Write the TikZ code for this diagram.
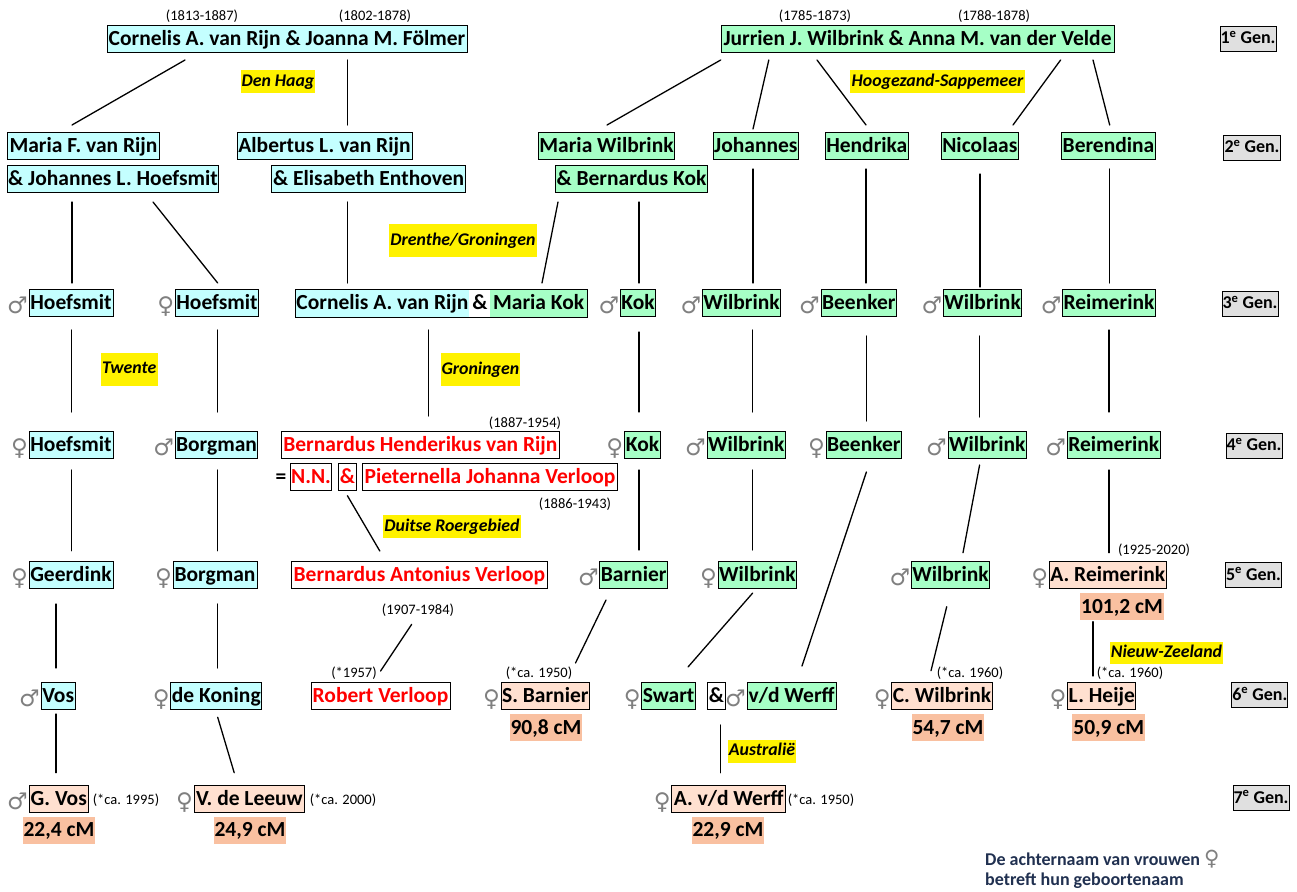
\documentclass[tikz,border=0pt]{standalone}
\usepackage{fontspec}
\setmainfont{Carlito}
\newfontfamily\symf{DejaVu Sans}
\usetikzlibrary{fit}
\definecolor{cyb}{HTML}{C4FFFF}
\definecolor{grb}{HTML}{A6FFC6}
\definecolor{peb}{HTML}{FFE0D0}
\definecolor{cmb}{HTML}{F9C0A0}
\definecolor{genb}{HTML}{E0E0E0}
\definecolor{symgray}{HTML}{808080}
\definecolor{navy}{HTML}{203050}
\tikzset{
 pbx/.style={draw=black, line width=0.9pt, inner xsep=1pt, inner ysep=0pt, minimum height=27pt, text height=16.5pt, text depth=3.5pt, font=\bfseries\fontsize{21.5}{24}\selectfont},
 pcy/.style={pbx, fill=cyb},
 pgr/.style={pbx, fill=grb},
 ppe/.style={pbx, fill=peb},
 prd/.style={pbx, fill=white, text=red},
 pwh/.style={pbx, fill=white},
 cmbox/.style={fill=cmb, inner xsep=1pt, inner ysep=0pt, minimum height=27pt, minimum width=72pt, text height=16.5pt, text depth=3.5pt, font=\bfseries\fontsize{21.5}{24}\selectfont},
 genbox/.style={draw=black, line width=0.9pt, fill=genb, inner xsep=0.5pt, inner ysep=0pt, minimum height=25pt, text height=14.5pt, text depth=4pt, font=\bfseries\fontsize{18}{20}\selectfont},
 ylab/.style={fill=yellow, inner sep=0pt, text height=13pt, text depth=4pt, font=\bfseries\itshape\fontsize{17.8}{20}\selectfont},
 dat/.style={inner sep=0pt, font=\fontsize{14.5}{16}\selectfont},
 gsym/.style={inner sep=0pt, text=symgray, font=\symf\fontsize{23}{24}\selectfont},
 conline/.style={line width=1.3pt, line cap=round},
}
\newcommand\pp[7]{\node[#1, minimum width=#5] (#2) at (#3,#4) {#7};
 \node[gsym, anchor=base east, xshift=-0.5pt, yshift=-4pt] (#2s) at (#2.base west) {#6};}
\newcommand\conn[3]{\coordinate (#1a) at (#2); \coordinate (#1b) at (#3); \draw[conline] (#1a) -- (#1b);}
\begin{document}
\begin{tikzpicture}[x=1pt,y=-1pt]
\fill[white] (0,0) rectangle (1297,891);
\useasboundingbox (0,0) rectangle (1297,891);

% ---------- generation 1
\node[pcy, minimum width=360] (r1) at (287,39) {Cornelis A. van Rijn \& Joanna M. Fölmer};
\node[pgr, minimum width=393] (w1) at (917.5,39) {Jurrien J. Wilbrink \& Anna M. van der Velde};
\node[dat] (d1) at (202,16) {(1813-1887)};
\node[dat] (d2) at (375,16) {(1802-1878)};
\node[dat] (d3) at (815,16) {(1785-1873)};
\node[dat] (d4) at (994,16) {(1788-1878)};
\node[genbox, minimum width=56] (g1) at (1248,38.5) {1\textsuperscript{e} Gen.};
\node[ylab, minimum width=74, minimum height=23] (y1) at (278,81.5) {Den Haag};
\node[ylab, minimum width=175, minimum height=23] (y2) at (937.5,81.5) {Hoogezand-Sappemeer};

% ---------- generation 2
\node[pcy, minimum width=152] (a1) at (83.5,146) {Maria F. van Rijn};
\node[pcy, minimum width=211.5] (a2) at (113,179) {\& Johannes L. Hoefsmit};
\node[pcy, minimum width=175] (b1) at (324.5,146) {Albertus L. van Rijn};
\node[pcy, minimum width=194] (b2) at (368.6,179) {\& Elisabeth Enthoven};
\node[pgr, minimum width=136] (c1) at (606.5,146) {Maria Wilbrink};
\node[pgr, minimum width=151.6] (c2) at (631.5,179) {\& Bernardus Kok};
\node[pgr, minimum width=85.5] (e1) at (755.8,146) {Johannes};
\node[pgr, minimum width=83.5] (f1) at (866.8,146) {Hendrika};
\node[pgr, minimum width=77.5] (h1) at (979.8,146) {Nicolaas};
\node[pgr, minimum width=93.7] (k1) at (1108.5,146) {Berendina};
\node[genbox, minimum width=57] (g2) at (1252,147.5) {2\textsuperscript{e} Gen.};
\node[ylab, minimum width=148, minimum height=33] (y3) at (463,240.5) {Drenthe/Groningen};

% ---------- generation 3
\pp{pcy}{p3a}{71}{303}{84}{♂}{Hoefsmit}
\pp{pcy}{p3b}{217}{303}{83.3}{♀}{Hoefsmit}
\node[pbx, draw=none, fill=cyb, minimum width=173.5, anchor=west] (c3a) at (295,303) {Cornelis A. van Rijn};
\node[pbx, draw=none, fill=white, minimum width=19, anchor=west] (c3b) at (c3a.east) {\&};
\node[pbx, draw=none, fill=grb, minimum width=96.8, anchor=west] (c3c) at (c3b.east) {Maria Kok};
\node[fit=(c3a)(c3c), draw=black, line width=0.9pt, inner sep=0pt] (c3) {};
\pp{pgr}{p3d}{638}{303}{34.7}{♂}{Kok}
\pp{pgr}{p3e}{741.5}{303}{78.3}{♂}{Wilbrink}
\pp{pgr}{p3f}{858.8}{303}{75.6}{♂}{Beenker}
\pp{pgr}{p3g}{982.6}{303}{77.8}{♂}{Wilbrink}
\pp{pgr}{p3h}{1109}{303}{92.7}{♂}{Reimerink}
\node[genbox, minimum width=54.3] (g3) at (1250,303.5) {3\textsuperscript{e} Gen.};
\node[ylab, minimum width=56.5, minimum height=33] (y4) at (129.3,369.4) {Twente};
\node[ylab, minimum width=79.3, minimum height=33] (y5) at (480.4,369.5) {Groningen};

% ---------- generation 4
\pp{pcy}{p4a}{71}{444.5}{84}{♀}{Hoefsmit}
\pp{pcy}{p4b}{216.5}{444.5}{82}{♂}{Borgman}
\node[prd, minimum width=278.7] (p4c) at (420.4,444.5) {Bernardus Henderikus van Rijn};
\node[dat] (d5) at (525,423.5) {(1887-1954)};
\node[anchor=base, inner sep=0pt, font=\bfseries\fontsize{21.5}{24}\selectfont] (eq) at (281,483) {=};
\node[prd, minimum width=41.7] (nn) at (311,476.5) {N.N.};
\node[prd, minimum width=16.7] (amp) at (347.4,476.5) {\&};
\node[prd, minimum width=255.8] (pjv) at (490,476.5) {Pieternella Johanna Verloop};
\node[dat] (d6) at (575,504.5) {(1886-1943)};
\pp{pgr}{p4d}{642.5}{444.5}{36.2}{♀}{Kok}
\pp{pgr}{p4e}{746.3}{444.5}{78.6}{♂}{Wilbrink}
\pp{pgr}{p4f}{863.8}{444.5}{75.6}{♀}{Beenker}
\pp{pgr}{p4g}{987.3}{444.5}{78.6}{♂}{Wilbrink}
\pp{pgr}{p4h}{1113.8}{444.5}{93.5}{♂}{Reimerink}
\node[genbox, minimum width=54] (g4) at (1254,445.5) {4\textsuperscript{e} Gen.};
\node[ylab, minimum width=138, minimum height=23] (y6) at (452,526.5) {Duitse Roergebied};

% ---------- generation 5
\pp{pcy}{p5a}{71}{574.5}{84}{♀}{Geerdink}
\pp{pcy}{p5b}{215}{574.5}{84}{♀}{Borgman}
\node[prd, minimum width=256.7] (p5c) at (419.4,574.5) {Bernardus Antonius Verloop};
\pp{pgr}{p5d}{633.7}{574.5}{66.6}{♂}{Barnier}
\pp{pgr}{p5e}{757.4}{574.5}{78}{♀}{Wilbrink}
\pp{pgr}{p5f}{950.5}{574.5}{78}{♂}{Wilbrink}
\pp{ppe}{p5g}{1107.8}{574.5}{116.3}{♀}{A. Reimerink}
\node[dat] (d7) at (1154,550.5) {(1925-2020)};
\node[cmbox, minimum width=82] (cm1) at (1122,606.5) {101,2 cM};
\node[genbox, minimum width=55] (g5) at (1253.5,575) {5\textsuperscript{e} Gen.};

% ---------- generation 6
\pp{pcy}{p6a}{58.2}{695.5}{34.5}{♂}{Vos}
\pp{pcy}{p6b}{216.3}{695.5}{90.6}{♀}{de Koning}
\node[prd, minimum width=139] (p6c) at (380.5,695.5) {Robert Verloop};
\node[dat] (d8) at (418,610) {(1907-1984)};
\node[dat] (d9) at (354,673) {(*1957)};
\pp{ppe}{p6d}{545.3}{695.5}{88.6}{♀}{S. Barnier}
\node[dat] (d10) at (539,673) {(*ca. 1950)};
\node[cmbox] (cm2) at (546,727.5) {90,8 cM};
\pp{pgr}{p6e}{668.6}{695.5}{53.3}{♀}{Swart}
\node[pwh, minimum width=16] (amp2) at (716.5,695.5) {\&};
\pp{pgr}{p6f}{791.6}{695.5}{89.3}{♂}{v/d Werff}
\pp{ppe}{p6g}{942}{695.5}{100.3}{♀}{C. Wilbrink}
\node[dat] (d11) at (970,673) {(*ca. 1960)};
\node[cmbox] (cm3) at (948,727.5) {54,7 cM};
\pp{ppe}{p6h}{1101.8}{695.5}{66.7}{♀}{L. Heije}
\node[dat] (d12) at (1130,673) {(*ca. 1960)};
\node[cmbox] (cm4) at (1108.8,727.5) {50,9 cM};
\node[ylab, minimum width=113, minimum height=22] (y7) at (1166.5,653.3) {Nieuw-Zeeland};
\node[genbox, minimum width=55.5] (g6) at (1259.8,695) {6\textsuperscript{e} Gen.};
\node[ylab, minimum width=68, minimum height=22.7] (y8) at (762,751.4) {Australië};

% ---------- generation 7
\pp{ppe}{p7a}{58.8}{798.5}{59.7}{♂}{G. Vos}
\node[dat] (d13) at (126,800) {(*ca. 1995)};
\node[cmbox] (cm5) at (59,830.4) {22,4 cM};
\pp{ppe}{p7b}{249.4}{798.5}{110.7}{♀}{V. de Leeuw}
\node[dat] (d14) at (343,800) {(*ca. 2000)};
\node[cmbox] (cm6) at (250,830.4) {24,9 cM};
\pp{ppe}{p7c}{728.7}{798.5}{113.8}{♀}{A. v/d Werff}
\node[dat] (d15) at (821,800) {(*ca. 1950)};
\node[cmbox] (cm7) at (728,830.4) {22,9 cM};
\node[genbox, minimum width=56] (g7) at (1261,798) {7\textsuperscript{e} Gen.};

% ---------- footer
\node[anchor=west, inner sep=0pt, text=navy, font=\bfseries\fontsize{18}{22}\selectfont] (ft1) at (985,859) {De achternaam van vrouwen \textcolor{symgray}{\symf\mdseries\fontsize{21}{22}\selectfont ♀}};
\node[anchor=west, inner sep=0pt, text=navy, font=\bfseries\fontsize{18}{22}\selectfont] (ft2) at (985,881) {betreft hun geboortenaam};

% ---------- connectors
\conn{l1}{185,60}{72,125}
\conn{l2}{347.5,60}{347.5,125}
\conn{l3}{720.7,60}{607,125}
\conn{l4}{768.8,60}{753,129}
\conn{l5}{817,60}{866,125}
\conn{l6}{1060.6,60}{1013,125}
\conn{l7}{1093,60}{1109.7,125}
\conn{l8}{72,202}{72,283}
\conn{l9}{153,202}{217.7,283}
\conn{l10}{347.5,202}{347.5,283}
\conn{l11}{558,202}{542,283}
\conn{l12}{639,202}{639,283}
\conn{l13}{753,169}{753,283}
\conn{l14}{866,169}{866,283}
\conn{l15}{980,174}{980,287}
\conn{l16}{1109.7,169}{1109.7,283}
\conn{l17}{71.7,330}{71.7,412}
\conn{l18}{217.7,330}{217.7,412}
\conn{l19}{428.7,330}{428.7,416}
\conn{l20}{639,332}{639,412}
\conn{l21}{752.7,330}{752.7,412}
\conn{l22}{866.4,336}{866.4,421}
\conn{l23}{979.6,336}{979.6,417}
\conn{l24}{1109,330}{1109,412}
\conn{l25}{71.7,470}{71.7,550.7}
\conn{l26}{217.7,470}{217.7,550.7}
\conn{l27}{347.4,495.7}{379.8,551}
\conn{l28}{639,470}{639,550}
\conn{l29}{752.7,470}{752.7,550}
\conn{l30}{866.4,472}{802,666}
\conn{l31}{979.6,465}{963,552.7}
\conn{l32}{1109,470}{1109,552.7}
\conn{l33}{56,604}{56,668}
\conn{l34}{217.7,604}{217.7,668}
\conn{l35}{411.7,624.3}{380.6,671}
\conn{l36}{606,600}{575.5,663}
\conn{l37}{752.7,593}{688,667}
\conn{l38}{946.7,606.7}{931,670.7}
\conn{l39}{1093,621.7}{1093,676}
\conn{l40}{720.7,725}{720.7,772.7}
\conn{l41}{56,714}{56,772.7}
\conn{l42}{217.7,717.3}{234.2,772.7}
\end{tikzpicture}
\end{document}
